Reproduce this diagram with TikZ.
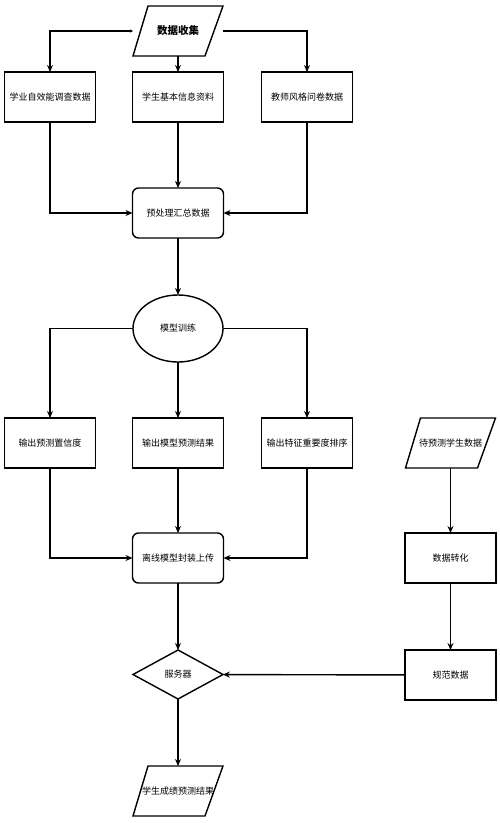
\documentclass[tikz,border=0pt]{standalone}
\usepackage{fontspec}
\setmainfont{Noto Sans CJK SC}
\usetikzlibrary{arrows.meta,positioning,shapes.geometric}

\begin{document}
\begin{tikzpicture}[
	x=1pt, y=-1pt,
	node distance=16pt,
	box/.style={
		draw,
		line width=1.4pt,
		minimum width=91pt,
		minimum height=50pt,
		inner sep=1pt,
		outer sep=0pt,
		align=center,
		font=\fontsize{9}{10}\selectfont
	},
	rbox/.style={box, rounded corners=6pt},
	para/.style={
		box,
		draw=none,
		minimum width=90pt,
		inner sep=0pt,
		append after command={\pgfextra{
			\draw[line width=1.4pt, line join=miter]
				(\tikzlastnode.south west) -- ([xshift=-18pt]\tikzlastnode.south east)
				-- (\tikzlastnode.north east) -- ([xshift=15pt]\tikzlastnode.north west)
				-- cycle;
		}}
	},
	oval/.style={box, ellipse, minimum width=90pt, minimum height=67pt},
	decide/.style={box, diamond, minimum width=90pt, minimum height=49pt, inner sep=0pt},
	flow/.style={
		-{Stealth[length=7pt,width=6pt]},
		line width=1.4pt
	}
]

\useasboundingbox (0,0) rectangle (500,823);

\node[para, font=\fontsize{10.5}{12}\selectfont\bfseries] (collect) at (178,31) {数据收集};

\node[box, below=16pt of collect] (basic) {学生基本信息资料};
\node[box, left=37pt of basic] (selfeff) {学业自效能调查数据};
\node[box, right=38pt of basic] (teacher) {教师风格问卷数据};

\node[rbox, below=66pt of basic] (pre) {预处理汇总数据};

\node[oval, below=57pt of pre] (train) {模型训练};

\node[box, below=56pt of train] (outres) {输出模型预测结果};
\node[box, left=37pt of outres] (conf) {输出预测置信度};
\node[box, right=38pt of outres] (rank) {输出特征重要度排序};
\node[para, right=53pt of rank] (topredict) {待预测学生数据};

\node[rbox, below=65pt of outres] (package) {离线模型封装上传};
\node[box, below=65pt of topredict] (transform) {数据转化};

\node[decide, below=67pt of package] (server) {服务器};
\node[box, below=67pt of transform] (norm) {规范数据};

\node[para, below=67pt of server] (result) {学生成绩预测结果};

\draw[{Stealth[length=3pt,width=3pt]}-{Stealth[length=7pt,width=6pt]}, line width=1.4pt] (collect.west) -| (selfeff.north);
\draw[flow] (collect) -- (basic);
\draw[flow] (collect.east) -| (teacher.north);

\draw[flow] (selfeff.south) |- (pre.west);
\draw[flow] (basic) -- (pre);
\draw[flow] (teacher.south) |- (pre.east);

\draw[flow] (pre) -- (train);

\draw[flow] (train.west) -| (conf.north);
\draw[flow] (train) -- (outres);
\draw[flow] (train.east) -| (rank.north);

\draw[flow] (conf.south) |- (package.west);
\draw[flow] (outres) -- (package);
\draw[flow] (rank.south) |- (package.east);

\draw[flow] (topredict) -- (transform);
\draw[flow] (transform) -- (norm);
\draw[flow] (norm) -- (server);

\draw[flow] (package) -- (server);
\draw[flow] (server) -- (result);

\end{tikzpicture}
\end{document}
